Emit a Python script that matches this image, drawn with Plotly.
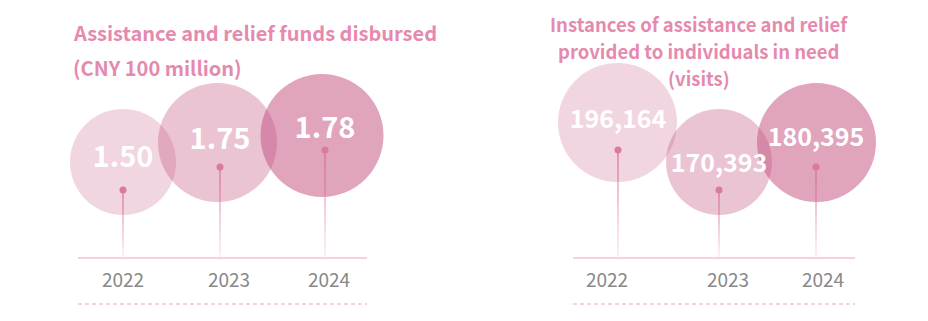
import plotly.graph_objects as go
import numpy as np

# ---------------- data ----------------
years = ["2022", "2023", "2024"]
funds = [1.50, 1.75, 1.78]
funds_text = ["1.50", "1.75", "1.78"]
visits = [196164, 170393, 180395]
visits_text = [f"{v:,}" for v in visits]
title_left = ["Assistance and relief funds disbursed", "(CNY 100 million)"]
title_right = ["Instances of assistance and relief",
               "provided to individuals in need", "(visits)"]

# ---------------- style / layout ----------------
W, H = 928, 321
FONT = "Noto Sans CJK SC, Source Sans Pro, Noto Sans, sans-serif"
BASE = (194, 78, 125)
ALPHAS = [0.235, 0.333, 0.508]
TITLE_COLOR = "#E58AAE"
YEAR_COLOR = "#888888"
DOT_COLOR = "#D97A9E"
BASELINE_Y = 258
DASH_Y = 304
YEAR_Y = 282

panels = [
    dict(ax="x", ay="y", px0=78, px1=367, origin=123, unit=101,
         values=funds, text=funds_text, vsize=29,
         stem_dx=[0, -4, 0], dot_y=[190, 167, 150],
         circ_dx=[0, -6.5, -3], circ_y=[162, 142.5, 135.5], diam=[106, 119, 123],
         lab_dx=[0, -4, 0], lab_y=[160, 142, 131],
         year_dx=[0, 5, 4]),
    dict(ax="x2", ay="y2", px0=573, px1=855, origin=618, unit=99,
         values=visits, text=visits_text, vsize=25,
         stem_dx=[0, 2, 0], dot_y=[150, 190, 167],
         circ_dx=[-0.5, 2, 0.5], circ_y=[122.5, 162, 142.5], diam=[119, 106, 119],
         lab_dx=[0, 2, 0], lab_y=[122, 166, 140],
         year_dx=[-11, 11, 7]),
]

fig = go.Figure()

for p in panels:
    u = p["unit"]
    idx = np.arange(len(years), dtype=float)
    xr = [(p["px0"] - p["origin"]) / u, (p["px1"] - p["origin"]) / u]
    p["xr"] = xr
    stem_x = idx + np.array(p["stem_dx"]) / u
    circ_x = idx + np.array(p["circ_dx"]) / u
    lab_x = idx + np.array(p["lab_dx"]) / u
    year_x = idx + np.array(p["year_dx"]) / u
    kw = dict(xaxis=p["ax"], yaxis=p["ay"], hoverinfo="skip", showlegend=False,
              cliponaxis=False)

    # circles
    fig.add_trace(go.Scatter(
        x=circ_x, y=p["circ_y"], mode="markers",
        marker=dict(size=p["diam"],
                    color=[f"rgba({BASE[0]},{BASE[1]},{BASE[2]},{a})" for a in ALPHAS],
                    line=dict(width=0), opacity=1),
        **kw))

    # stems with fading gradient
    nseg = 14
    for k in range(nseg):
        xs, ys = [], []
        for i in range(len(years)):
            y0, y1 = p["dot_y"][i], BASELINE_Y
            ya = y0 + (y1 - y0) * k / nseg
            yb = y0 + (y1 - y0) * (k + 1) / nseg
            xs += [stem_x[i], stem_x[i], None]
            ys += [ya, yb, None]
        a = 0.75 - 0.62 * k / (nseg - 1)
        fig.add_trace(go.Scatter(
            x=xs, y=ys, mode="lines",
            line=dict(color=f"rgba(214,110,150,{a:.3f})", width=1.6), **kw))

    # baseline
    fig.add_trace(go.Scatter(
        x=xr, y=[BASELINE_Y, BASELINE_Y], mode="lines",
        line=dict(color="#F6D0DD", width=2.2), **kw))
    # dashed line
    fig.add_trace(go.Scatter(
        x=xr, y=[DASH_Y, DASH_Y], mode="lines",
        line=dict(color="#F4C4D5", width=1.3, dash="4px,3px"), **kw))

    # dots
    fig.add_trace(go.Scatter(
        x=stem_x, y=p["dot_y"], mode="markers",
        marker=dict(size=7, color=DOT_COLOR, line=dict(width=0)), **kw))

    # value labels
    fig.add_trace(go.Scatter(
        x=lab_x, y=p["lab_y"], mode="text", text=p["text"],
        textposition="middle center",
        textfont=dict(family=FONT, size=p["vsize"], color="white", weight="bold"), **kw))

    # year labels
    fig.add_trace(go.Scatter(
        x=year_x, y=[YEAR_Y] * len(years), mode="text", text=years,
        textposition="middle center",
        textfont=dict(family=FONT, size=19, color=YEAR_COLOR), **kw))

# titles
ann = []
for line, y in zip(title_left, [32, 67]):
    ann.append(dict(text=line, x=72 / W, y=1 - y / H, xref="paper", yref="paper",
                    xanchor="left", yanchor="middle", showarrow=False, borderpad=0,
                    font=dict(family=FONT, size=20, color=TITLE_COLOR, weight="bold")))
for line, y in zip(title_right, [24, 51, 78]):
    ann.append(dict(text=line, x=699 / W, y=1 - y / H, xref="paper", yref="paper",
                    xanchor="center", yanchor="middle", showarrow=False, borderpad=0,
                    font=dict(family=FONT, size=18.5, color=TITLE_COLOR, weight="bold")))

p0, p1 = panels
fig.update_layout(
    width=W, height=H, margin=dict(l=0, r=0, t=0, b=0),
    paper_bgcolor="white", plot_bgcolor="white",
    annotations=ann,
    xaxis=dict(domain=[p0["px0"] / W, p0["px1"] / W], range=p0["xr"], visible=False),
    yaxis=dict(domain=[0, 1], range=[H, 0], visible=False),
    xaxis2=dict(domain=[p1["px0"] / W, p1["px1"] / W], range=p1["xr"], visible=False),
    yaxis2=dict(domain=[0, 1], range=[H, 0], visible=False, anchor="x2"),
)

fig.write_html("out.html")
